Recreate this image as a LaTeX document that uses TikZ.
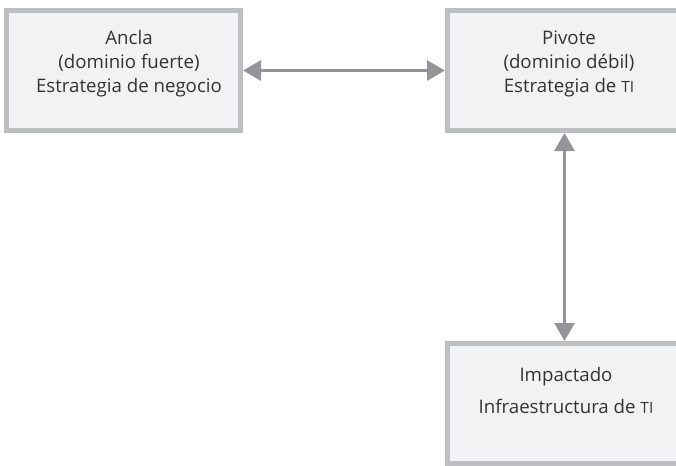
\documentclass[tikz,border=0pt]{standalone}
\usepackage{fontspec}
\setmainfont{Open Sans}
\usetikzlibrary{arrows.meta}
\definecolor{boxborder}{HTML}{BDBEC1}
\definecolor{boxfill}{HTML}{F1F2F4}
\definecolor{arrowgray}{HTML}{939598}
\definecolor{txt}{HTML}{333335}
\newcommand{\smcTI}{{\fontsize{11.6pt}{12pt}\selectfont TI}}
\tikzset{
  box/.style={draw=boxborder, fill=boxfill, line width=3.75pt, rectangle,
    minimum width=175.5pt, minimum height=90pt, inner sep=0pt},
  boxtext/.style={align=center, text=txt, inner sep=0pt,
    font=\fontsize{14pt}{18pt}\selectfont},
  arr/.style={draw=arrowgray, line width=2.25pt,
    {Triangle[length=13.5pt,width=15pt]}-{Triangle[length=13.5pt,width=15pt]}}
}
\begin{document}
\begin{tikzpicture}[x=0.75pt,y=-0.75pt]
\useasboundingbox (0,0) rectangle (676,465);
\fill[white] (0,0) rectangle (676,465);
\clip (0,0) rectangle (676,465);
\node[box] (ancla) at (123.5,70.5) {};
\node[box] (pivote) at (564.5,70.5) {};
\node[box] (impact) at (564.5,403.5) {};
\node[boxtext] (anclaT) at (129,64) {Ancla\\(dominio fuerte)\\Estrategia de negocio};
\node[boxtext] (pivoteT) at (569,64) {Pivote\\(dominio débil)\\Estrategia de \smcTI};
\node[boxtext] (impactT) at (566,390) {Impactado\\[6pt]Infraestructura de \smcTI};
\draw[arr] (ancla.east) -- (pivote.west);
\draw[arr] (pivote.south) -- (impact.north);
\end{tikzpicture}
\end{document}
